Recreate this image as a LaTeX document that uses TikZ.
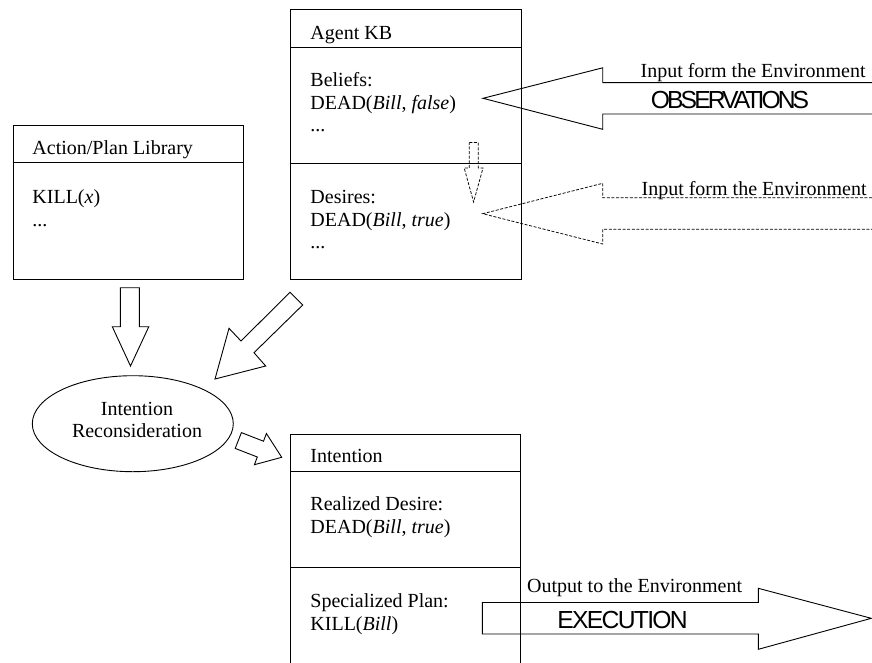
\documentclass[tikz,border=0pt]{standalone}
\usepackage{fontspec}
\setmainfont{Liberation Serif}
\newfontfamily\obsfont[LetterSpace=-12]{Liberation Sans}
\newfontfamily\execfont[LetterSpace=-7]{Liberation Sans}
\usetikzlibrary{shapes.geometric}

\begin{document}
\begin{tikzpicture}[x=1pt,y=-1pt,
  line width=0.9pt,
  box/.style={draw, line width=0.9pt, inner sep=0pt, anchor=north west},
  txt/.style={inner sep=0pt, anchor=base west, font=\fontsize{20}{22.5}\selectfont},
  ctxt/.style={txt, anchor=base},
  rtxt/.style={txt, anchor=base east},
  bigtxt/.style={inner sep=0pt, anchor=base west},
  blockarrow/.style={draw, line width=0.9pt, line join=miter},
  dashedarrow/.style={draw, line width=0.75pt, dash pattern=on 3pt off 1.6pt, line join=miter}]

\useasboundingbox (0,0) rectangle (872,662);

% ---------- Agent KB ----------
\node[box, minimum width=230.7pt, minimum height=269.7pt] (kb) at (290,9.3) {};
\draw (290,47.7) -- (520.7,47.7);
\draw (290,163) -- (520.7,163);
\node[txt] (kbtitle) at (310,39.5) {Agent KB};
\node[txt] (bel1) at (310,86.5) {Beliefs:};
\node[txt] (bel2) at (310,109) {DEAD(\textit{Bill}, \textit{false})};
\node[txt] (bel3) at (310,131.5) {...};
\node[txt] (des1) at (310,203.5) {Desires:};
\node[txt] (des2) at (310,226) {DEAD(\textit{Bill}, \textit{true})};
\node[txt] (des3) at (310,248.5) {...};

% ---------- Action/Plan Library ----------
\node[box, minimum width=230.3pt, minimum height=154pt] (lib) at (12.7,125) {};
\draw (12.7,162.7) -- (243,162.7);
\node[txt] (libtitle) at (32,154.5) {Action/Plan Library};
\node[txt] (lib1) at (32,203.5) {KILL(\textit{x})};
\node[txt] (lib2) at (32,226) {...};

% ---------- Intention (open at the bottom edge) ----------
\coordinate (intTL) at (290,434);
\draw (290,665) -- (intTL) -- (520.7,434) -- (520.7,665);
\draw (290,471.7) -- (520.7,471.7);
\draw (290,567.3) -- (520.7,567.3);
\node[txt] (inttitle) at (310,462) {Intention};
\node[txt] (rd1) at (310,510.5) {Realized Desire:};
\node[txt] (rd2) at (310,533) {DEAD(\textit{Bill}, \textit{true})};
\node[txt] (sp1) at (310,607.5) {Specialized Plan:};
\node[txt] (sp2) at (310,630) {KILL(\textit{Bill})};

% ---------- Intention Reconsideration ----------
\node[draw, ellipse, line width=0.9pt, inner sep=0pt,
      minimum width=201pt, minimum height=96pt] (ir) at (132.8,423.7) {};
\node[ctxt] (ir1) at (137,415) {Intention};
\node[ctxt] (ir2) at (137,437) {Reconsideration};

% ---------- block arrows between the parts ----------
% library down to the reconsideration
\draw[blockarrow] (120.3,287.7) -- (139.3,287.7) -- (139.3,326.7) -- (148.8,326.7)
  -- (130.5,366) -- (112.3,326.7) -- (120.3,326.7) -- cycle;
% knowledge base down-left to the reconsideration
\draw[blockarrow] (290,292.3) -- (302.7,305) -- (254,352.7) -- (265.7,366)
  -- (215,379) -- (229,328.3) -- (241,341) -- cycle;
% reconsideration to the intention
\draw[blockarrow] (241.4,432.6) -- (263.5,441.2) -- (266.4,433.5) -- (281.7,457.3)
  -- (254.4,464.7) -- (257.3,457.0) -- (235.2,448.4) -- cycle;
% beliefs to desires (dashed)
\draw[dashedarrow] (469.3,142.5) -- (478.3,142.5) -- (478.3,168) -- (483,168)
  -- (473.6,202) -- (464.2,168) -- (469.3,168) -- cycle;

% ---------- environment arrows ----------
\draw[blockarrow] (872,82.6) -- (602.7,82.6) -- (602.7,67.8) -- (483,98.3)
  -- (602.7,129.3) -- (602.7,114) -- (872,114);
\node[rtxt] (in1) at (866,77) {Input form the Environment};
\node[bigtxt, font=\obsfont\fontsize{24.7}{26}\selectfont] (obs) at (650.5,108.5) {OBSERVATIONS};

\draw[dashedarrow] (872,197.7) -- (602.7,197.7) -- (602.7,183.3) -- (482.7,213.7)
  -- (602.7,244) -- (602.7,229.3) -- (872,229.3);
\node[rtxt] (in2) at (867,195) {Input form the Environment};

\draw[blockarrow] (482.3,602.5) -- (758.3,602.5) -- (758.3,588.3) -- (871.3,618.3)
  -- (758.3,649.3) -- (758.3,634) -- (482.3,634) -- cycle;
\node[txt] (out) at (526.7,592) {Output to the Environment};
\node[bigtxt, font=\execfont\fontsize{24.7}{26}\selectfont] (exec) at (557,628) {EXECUTION};
\end{tikzpicture}
\end{document}
